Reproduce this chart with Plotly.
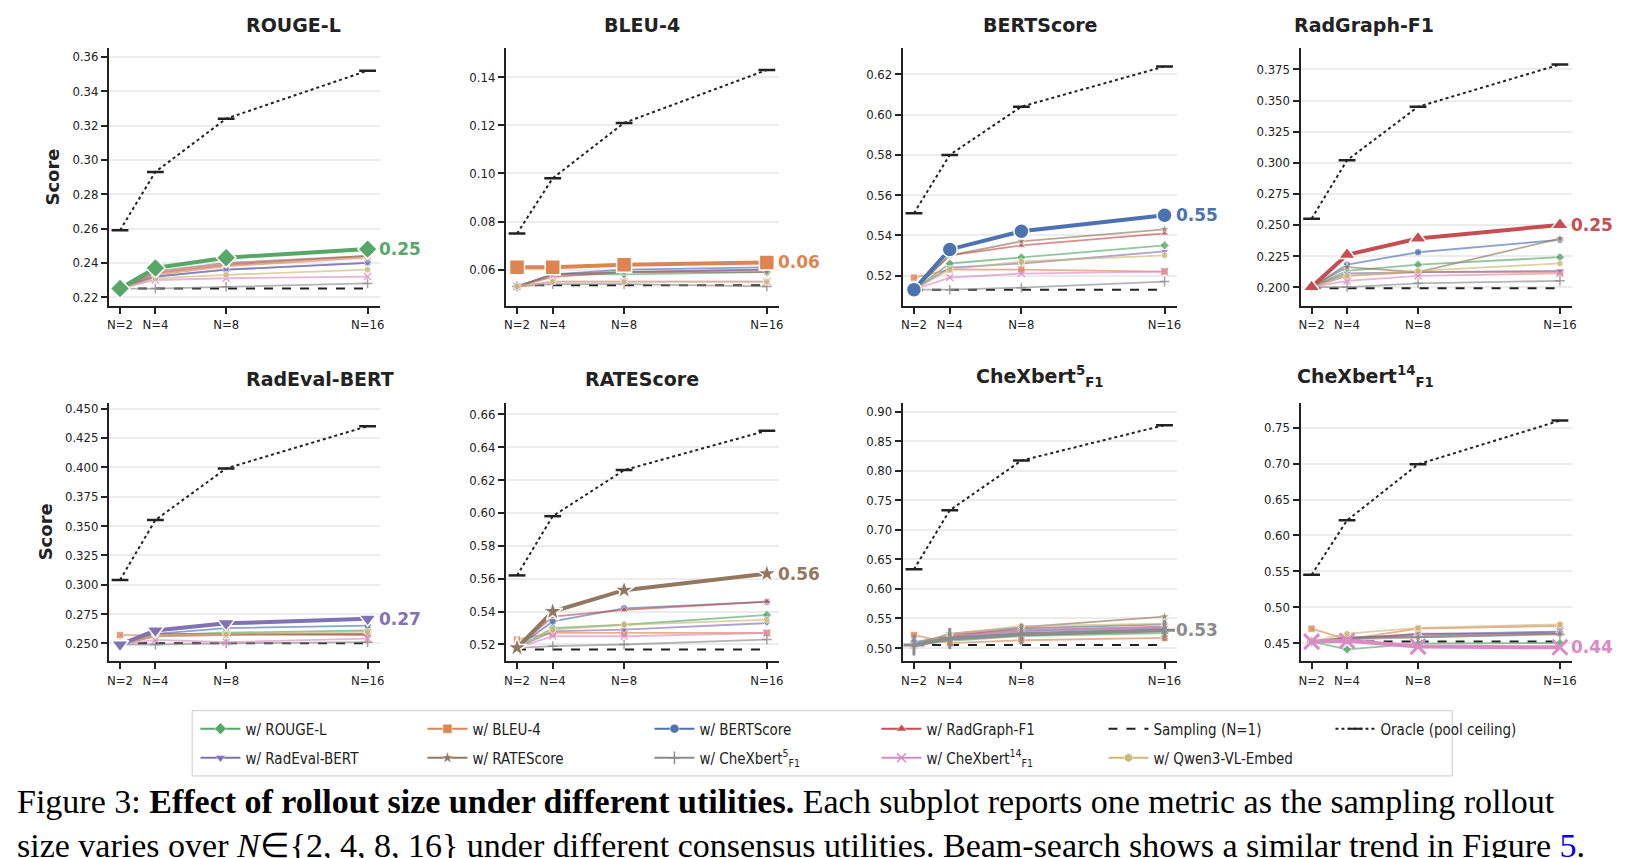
import plotly.graph_objects as go
from plotly.subplots import make_subplots

N_VALUES = [2, 4, 8, 16]
N_LABELS = ["N=2", "N=4", "N=8", "N=16"]

METRICS = ["ROUGE-L", "BLEU-4", "BERTScore", "RadGraph-F1",
           "RadEval-BERT", "RATEScore", "CheXbert5", "CheXbert14"]
TITLES = ["ROUGE-L", "BLEU-4", "BERTScore", "RadGraph-F1", "RadEval-BERT", "RATEScore",
          "CheXbert<sup>5</sup><sub>F1</sub>", "CheXbert<sup>14</sup><sub>F1</sub>"]

UTILS = ["rouge", "bleu", "bert", "radgraph", "radeval", "rate", "chex5", "chex14", "qwen"]
UTIL_NAMES = ["w/ ROUGE-L", "w/ BLEU-4", "w/ BERTScore", "w/ RadGraph-F1", "w/ RadEval-BERT",
              "w/ RATEScore", "w/ CheXbert<sup>5</sup><sub>F1</sub>",
              "w/ CheXbert<sup>14</sup><sub>F1</sub>", "w/ Qwen3-VL-Embed"]
# which utility is highlighted in each metric panel
HIGHLIGHT = ["rouge", "bleu", "bert", "radgraph", "radeval", "rate", "chex5", "chex14"]
END_LABELS = ["0.25", "0.06", "0.55", "0.25", "0.27", "0.56", "0.53", "0.44"]

ORACLE = [
    [0.259, 0.293, 0.324, 0.352],
    [0.075, 0.098, 0.121, 0.143],
    [0.551, 0.580, 0.604, 0.624],
    [0.255, 0.302, 0.345, 0.379],
    [0.304, 0.355, 0.399, 0.435],
    [0.562, 0.598, 0.626, 0.650],
    [0.633, 0.733, 0.817, 0.877],
    [0.545, 0.621, 0.699, 0.760],
]
SAMPLING = [0.225, 0.0535, 0.513, 0.199, 0.250, 0.517, 0.505, 0.452]

SCORES = {
    "ROUGE-L": {
        "rouge": [0.225, 0.237, 0.243, 0.248], "bleu": [0.225, 0.233, 0.238, 0.243],
        "bert": [0.225, 0.232, 0.236, 0.240], "radgraph": [0.225, 0.234, 0.239, 0.244],
        "radeval": [0.225, 0.232, 0.236, 0.240], "rate": [0.225, 0.235, 0.240, 0.244],
        "chex5": [0.225, 0.225, 0.226, 0.228], "chex14": [0.225, 0.230, 0.231, 0.232],
        "qwen": [0.225, 0.231, 0.233, 0.236]},
    "BLEU-4": {
        "rouge": [0.053, 0.058, 0.058, 0.059], "bleu": [0.061, 0.061, 0.062, 0.063],
        "bert": [0.053, 0.058, 0.060, 0.061], "radgraph": [0.053, 0.057, 0.059, 0.060],
        "radeval": [0.053, 0.058, 0.059, 0.060], "rate": [0.053, 0.058, 0.059, 0.059],
        "chex5": [0.053, 0.054, 0.054, 0.053], "chex14": [0.053, 0.055, 0.055, 0.055],
        "qwen": [0.053, 0.055, 0.055, 0.055]},
    "BERTScore": {
        "rouge": [0.513, 0.526, 0.529, 0.535], "bleu": [0.519, 0.523, 0.523, 0.522],
        "bert": [0.513, 0.533, 0.542, 0.550], "radgraph": [0.513, 0.530, 0.535, 0.541],
        "radeval": [0.513, 0.524, 0.526, 0.532], "rate": [0.513, 0.530, 0.537, 0.543],
        "chex5": [0.513, 0.513, 0.514, 0.517], "chex14": [0.513, 0.519, 0.521, 0.522],
        "qwen": [0.513, 0.523, 0.527, 0.530]},
    "RadGraph-F1": {
        "rouge": [0.200, 0.213, 0.218, 0.224], "bleu": [0.200, 0.209, 0.212, 0.212],
        "bert": [0.200, 0.218, 0.228, 0.238], "radgraph": [0.200, 0.226, 0.239, 0.250],
        "radeval": [0.200, 0.211, 0.212, 0.213], "rate": [0.200, 0.216, 0.212, 0.239],
        "chex5": [0.200, 0.200, 0.203, 0.205], "chex14": [0.200, 0.205, 0.209, 0.211],
        "qwen": [0.200, 0.209, 0.213, 0.219]},
    "RadEval-BERT": {
        "rouge": [0.249, 0.257, 0.259, 0.261], "bleu": [0.257, 0.257, 0.258, 0.258],
        "bert": [0.249, 0.258, 0.263, 0.265], "radgraph": [0.249, 0.258, 0.258, 0.257],
        "radeval": [0.249, 0.261, 0.267, 0.271], "rate": [0.249, 0.256, 0.257, 0.258],
        "chex5": [0.249, 0.249, 0.250, 0.251], "chex14": [0.249, 0.253, 0.251, 0.254],
        "qwen": [0.249, 0.257, 0.258, 0.260]},
    "RATEScore": {
        "rouge": [0.518, 0.530, 0.532, 0.538], "bleu": [0.523, 0.527, 0.527, 0.527],
        "bert": [0.518, 0.534, 0.542, 0.546], "radgraph": [0.518, 0.537, 0.541, 0.546],
        "radeval": [0.518, 0.528, 0.529, 0.533], "rate": [0.518, 0.540, 0.553, 0.563],
        "chex5": [0.518, 0.519, 0.520, 0.523], "chex14": [0.518, 0.525, 0.525, 0.527],
        "qwen": [0.518, 0.529, 0.532, 0.535]},
    "CheXbert5": {
        "rouge": [0.505, 0.512, 0.520, 0.525], "bleu": [0.522, 0.508, 0.513, 0.517],
        "bert": [0.510, 0.520, 0.533, 0.540], "radgraph": [0.505, 0.522, 0.530, 0.536],
        "radeval": [0.505, 0.519, 0.528, 0.534], "rate": [0.505, 0.524, 0.535, 0.553],
        "chex5": [0.505, 0.516, 0.523, 0.530], "chex14": [0.505, 0.520, 0.530, 0.535],
        "qwen": [0.505, 0.523, 0.537, 0.541]},
    "CheXbert14": {
        "rouge": [0.452, 0.441, 0.449, 0.450], "bleu": [0.470, 0.455, 0.470, 0.474],
        "bert": [0.452, 0.457, 0.462, 0.466], "radgraph": [0.452, 0.455, 0.463, 0.463],
        "radeval": [0.452, 0.456, 0.460, 0.465], "rate": [0.452, 0.458, 0.458, 0.463],
        "chex5": [0.452, 0.455, 0.458, 0.462], "chex14": [0.452, 0.453, 0.445, 0.444],
        "qwen": [0.452, 0.463, 0.471, 0.476]},
}

Y_RANGES = [[0.215, 0.365], [0.045, 0.152], [0.505, 0.633], [0.185, 0.392],
            [0.235, 0.455], [0.510, 0.667], [0.478, 0.915], [0.425, 0.785]]
Y_TICKS = [[0.22, 0.36, 0.02], [0.06, 0.14, 0.02], [0.52, 0.62, 0.02], [0.2, 0.375, 0.025],
           [0.25, 0.45, 0.025], [0.52, 0.66, 0.02], [0.5, 0.9, 0.05], [0.45, 0.75, 0.05]]
Y_FMT = [".2f", ".2f", ".2f", ".3f", ".3f", ".2f", ".2f", ".2f"]

COLORS = {"rouge": "#55A868", "bleu": "#DD8452", "bert": "#4C72B0", "radgraph": "#C44E52",
          "radeval": "#8172B3", "rate": "#937860", "chex5": "#8C8C8C", "chex14": "#DA8BC3",
          "qwen": "#CCB974"}
SYMBOLS = {"rouge": "diamond", "bleu": "square", "bert": "circle", "radgraph": "triangle-up",
           "radeval": "triangle-down", "rate": "star", "chex5": "cross-thin", "chex14": "x-thin",
           "qwen": "hexagon"}

X_DOM = [[0.062, 0.228], [0.3055, 0.473], [0.549, 0.717], [0.793, 0.9595]]
Y_DOM = [[0.653, 0.953], [0.239, 0.540]]

TICKFONT = dict(family="DejaVu Sans Condensed", size=13, color="#222")


def rgba(hexc, a):
    h = hexc.lstrip("#")
    return "rgba(%d,%d,%d,%s)" % (int(h[0:2], 16), int(h[2:4], 16), int(h[4:6], 16), a)


fig = make_subplots(rows=2, cols=4)

for i, m in enumerate(METRICS):
    r, c = i // 4 + 1, i % 4 + 1
    hl = HIGHLIGHT[i]
    fig.add_trace(go.Scatter(x=[N_VALUES[0], N_VALUES[-1]], y=[SAMPLING[i]] * 2, mode="lines",
                             line=dict(color="#222", width=2, dash="dash"), showlegend=False),
                  row=r, col=c)
    order = [u for u in UTILS if u != hl] + [hl]
    for u in order:
        style = SYMBOLS[u]
        thin = style.endswith("thin")
        if u == hl:
            fig.add_trace(go.Scatter(
                x=N_VALUES, y=SCORES[m][u], mode="lines+markers",
                line=dict(color=COLORS[u], width=4),
                marker=dict(symbol=style, size=15, color=COLORS[u],
                            line=dict(color=COLORS[u] if thin else "white", width=3 if thin else 1.5)),
                showlegend=False), row=r, col=c)
        else:
            fig.add_trace(go.Scatter(
                x=N_VALUES, y=SCORES[m][u], mode="lines+markers",
                line=dict(color=rgba(COLORS[u], 0.65), width=1.8),
                marker=dict(symbol=style, size=7, color=rgba(COLORS[u], 0.8),
                            line=dict(color=rgba(COLORS[u], 0.8) if thin else "white",
                                      width=1.5 if thin else 0.6)),
                showlegend=False), row=r, col=c)
    fig.add_trace(go.Scatter(x=N_VALUES, y=ORACLE[i], mode="lines+markers",
                             line=dict(color="#222", width=2, dash="dot"),
                             marker=dict(symbol="line-ew", size=12, line=dict(color="#222", width=2.5)),
                             showlegend=False), row=r, col=c)
    fig.add_annotation(x=N_VALUES[-1], y=SCORES[m][hl][-1], xref="x%d" % (i + 1), yref="y%d" % (i + 1),
                       text="<b>%s</b>" % END_LABELS[i], showarrow=False, xanchor="left", xshift=9,
                       font=dict(family="DejaVu Sans", size=17, color=COLORS[hl]))
    t0, t1, st = Y_TICKS[i]
    ticks = []
    v = t0
    while v <= t1 + 1e-9:
        ticks.append(round(v, 4))
        v += st
    fig.update_yaxes(range=Y_RANGES[i], tickvals=ticks, tickformat=Y_FMT[i], domain=Y_DOM[r - 1],
                     showline=True, linecolor="#222", linewidth=2, ticks="outside", ticklen=6,
                     tickwidth=1.5, tickcolor="#222", showgrid=True, gridcolor="#ececec", gridwidth=1.5,
                     zeroline=False, tickfont=TICKFONT, row=r, col=c)
    fig.update_xaxes(range=[1.38, 16.68], tickvals=N_VALUES, ticktext=N_LABELS, domain=X_DOM[c - 1],
                     showline=True, linecolor="#222", linewidth=2, ticks="outside", ticklen=6,
                     tickwidth=1.5, tickcolor="#222", showgrid=False, zeroline=False,
                     tickfont=TICKFONT, row=r, col=c)
    fig.add_annotation(x=sum(X_DOM[c - 1]) / 2, y=Y_DOM[r - 1][1] + 0.012, xref="paper", yref="paper",
                       text="<b>%s</b>" % TITLES[i], showarrow=False, yanchor="bottom",
                       font=dict(family="DejaVu Sans", size=19, color="#222"))

for rr in (1, 2):
    fig.update_yaxes(title=dict(text="<b>Score</b>", font=dict(family="DejaVu Sans", size=18, color="#222"),
                                standoff=8), row=rr, col=1)

# legend-only entries, two rows drawn as two legends
LEG_ROWS = [["rouge", "bleu", "bert", "radgraph", "sampling", "oracle"],
            ["radeval", "rate", "chex5", "chex14", "qwen"]]
for li, row_keys in enumerate(LEG_ROWS):
    lg = "legend" if li == 0 else "legend2"
    for k, key in enumerate(row_keys):
        if key == "sampling":
            tr = go.Scatter(x=[None], y=[None], mode="lines", name="Sampling (N=1)",
                            line=dict(color="#222", width=2, dash="dash"))
        elif key == "oracle":
            tr = go.Scatter(x=[None], y=[None], mode="lines+markers", name="Oracle (pool ceiling)",
                            line=dict(color="#222", width=2, dash="dot"),
                            marker=dict(symbol="line-ew", size=10, line=dict(color="#222", width=2)))
        else:
            thin = SYMBOLS[key].endswith("thin")
            tr = go.Scatter(x=[None], y=[None], mode="lines+markers", name=UTIL_NAMES[UTILS.index(key)],
                            line=dict(color=COLORS[key], width=2),
                            marker=dict(symbol=SYMBOLS[key], size=9, color=COLORS[key],
                                        line=dict(color=COLORS[key] if thin else "white",
                                                  width=1.5 if thin else 0.5)))
        tr.legend = lg
        tr.legendrank = k + 1
        tr.showlegend = True
        fig.add_trace(tr, row=1, col=1)

LEG_STYLE = dict(orientation="h", xanchor="left", yanchor="top", entrywidth=172, entrywidthmode="pixels",
                 bgcolor="rgba(0,0,0,0)", borderwidth=0, itemwidth=40,
                 font=dict(family="DejaVu Sans Condensed", size=15, color="#222"))

fig.add_shape(type="rect", xref="paper", yref="paper", x0=0.113, x1=0.886, y0=0.105, y1=0.181,
              line=dict(color="#cccccc", width=1), fillcolor="white", layer="below")

fig.add_annotation(
    x=0.004, y=0.049, xref="paper", yref="paper", xanchor="left", yanchor="middle", showarrow=False,
    align="left",
    text="Figure 3: <b>Effect of rollout size under different utilities.</b> Each subplot reports one metric as the sampling rollout<br>"
         "size varies over <i>N</i>∈{2, 4, 8, 16} under different consensus utilities. Beam-search shows a similar trend in Figure "
         "<span style='color:#0000ee'>5</span>.",
    font=dict(family="Liberation Serif", size=34, color="#000"))

fig.update_layout(
    width=1630, height=858, margin=dict(l=0, r=0, t=0, b=0, autoexpand=False),
    plot_bgcolor="white", paper_bgcolor="white",
    showlegend=True,
    legend=dict(x=0.115, y=0.179, **LEG_STYLE),
    legend2=dict(x=0.115, y=0.145, **LEG_STYLE),
)

fig.write_html("out.html")
